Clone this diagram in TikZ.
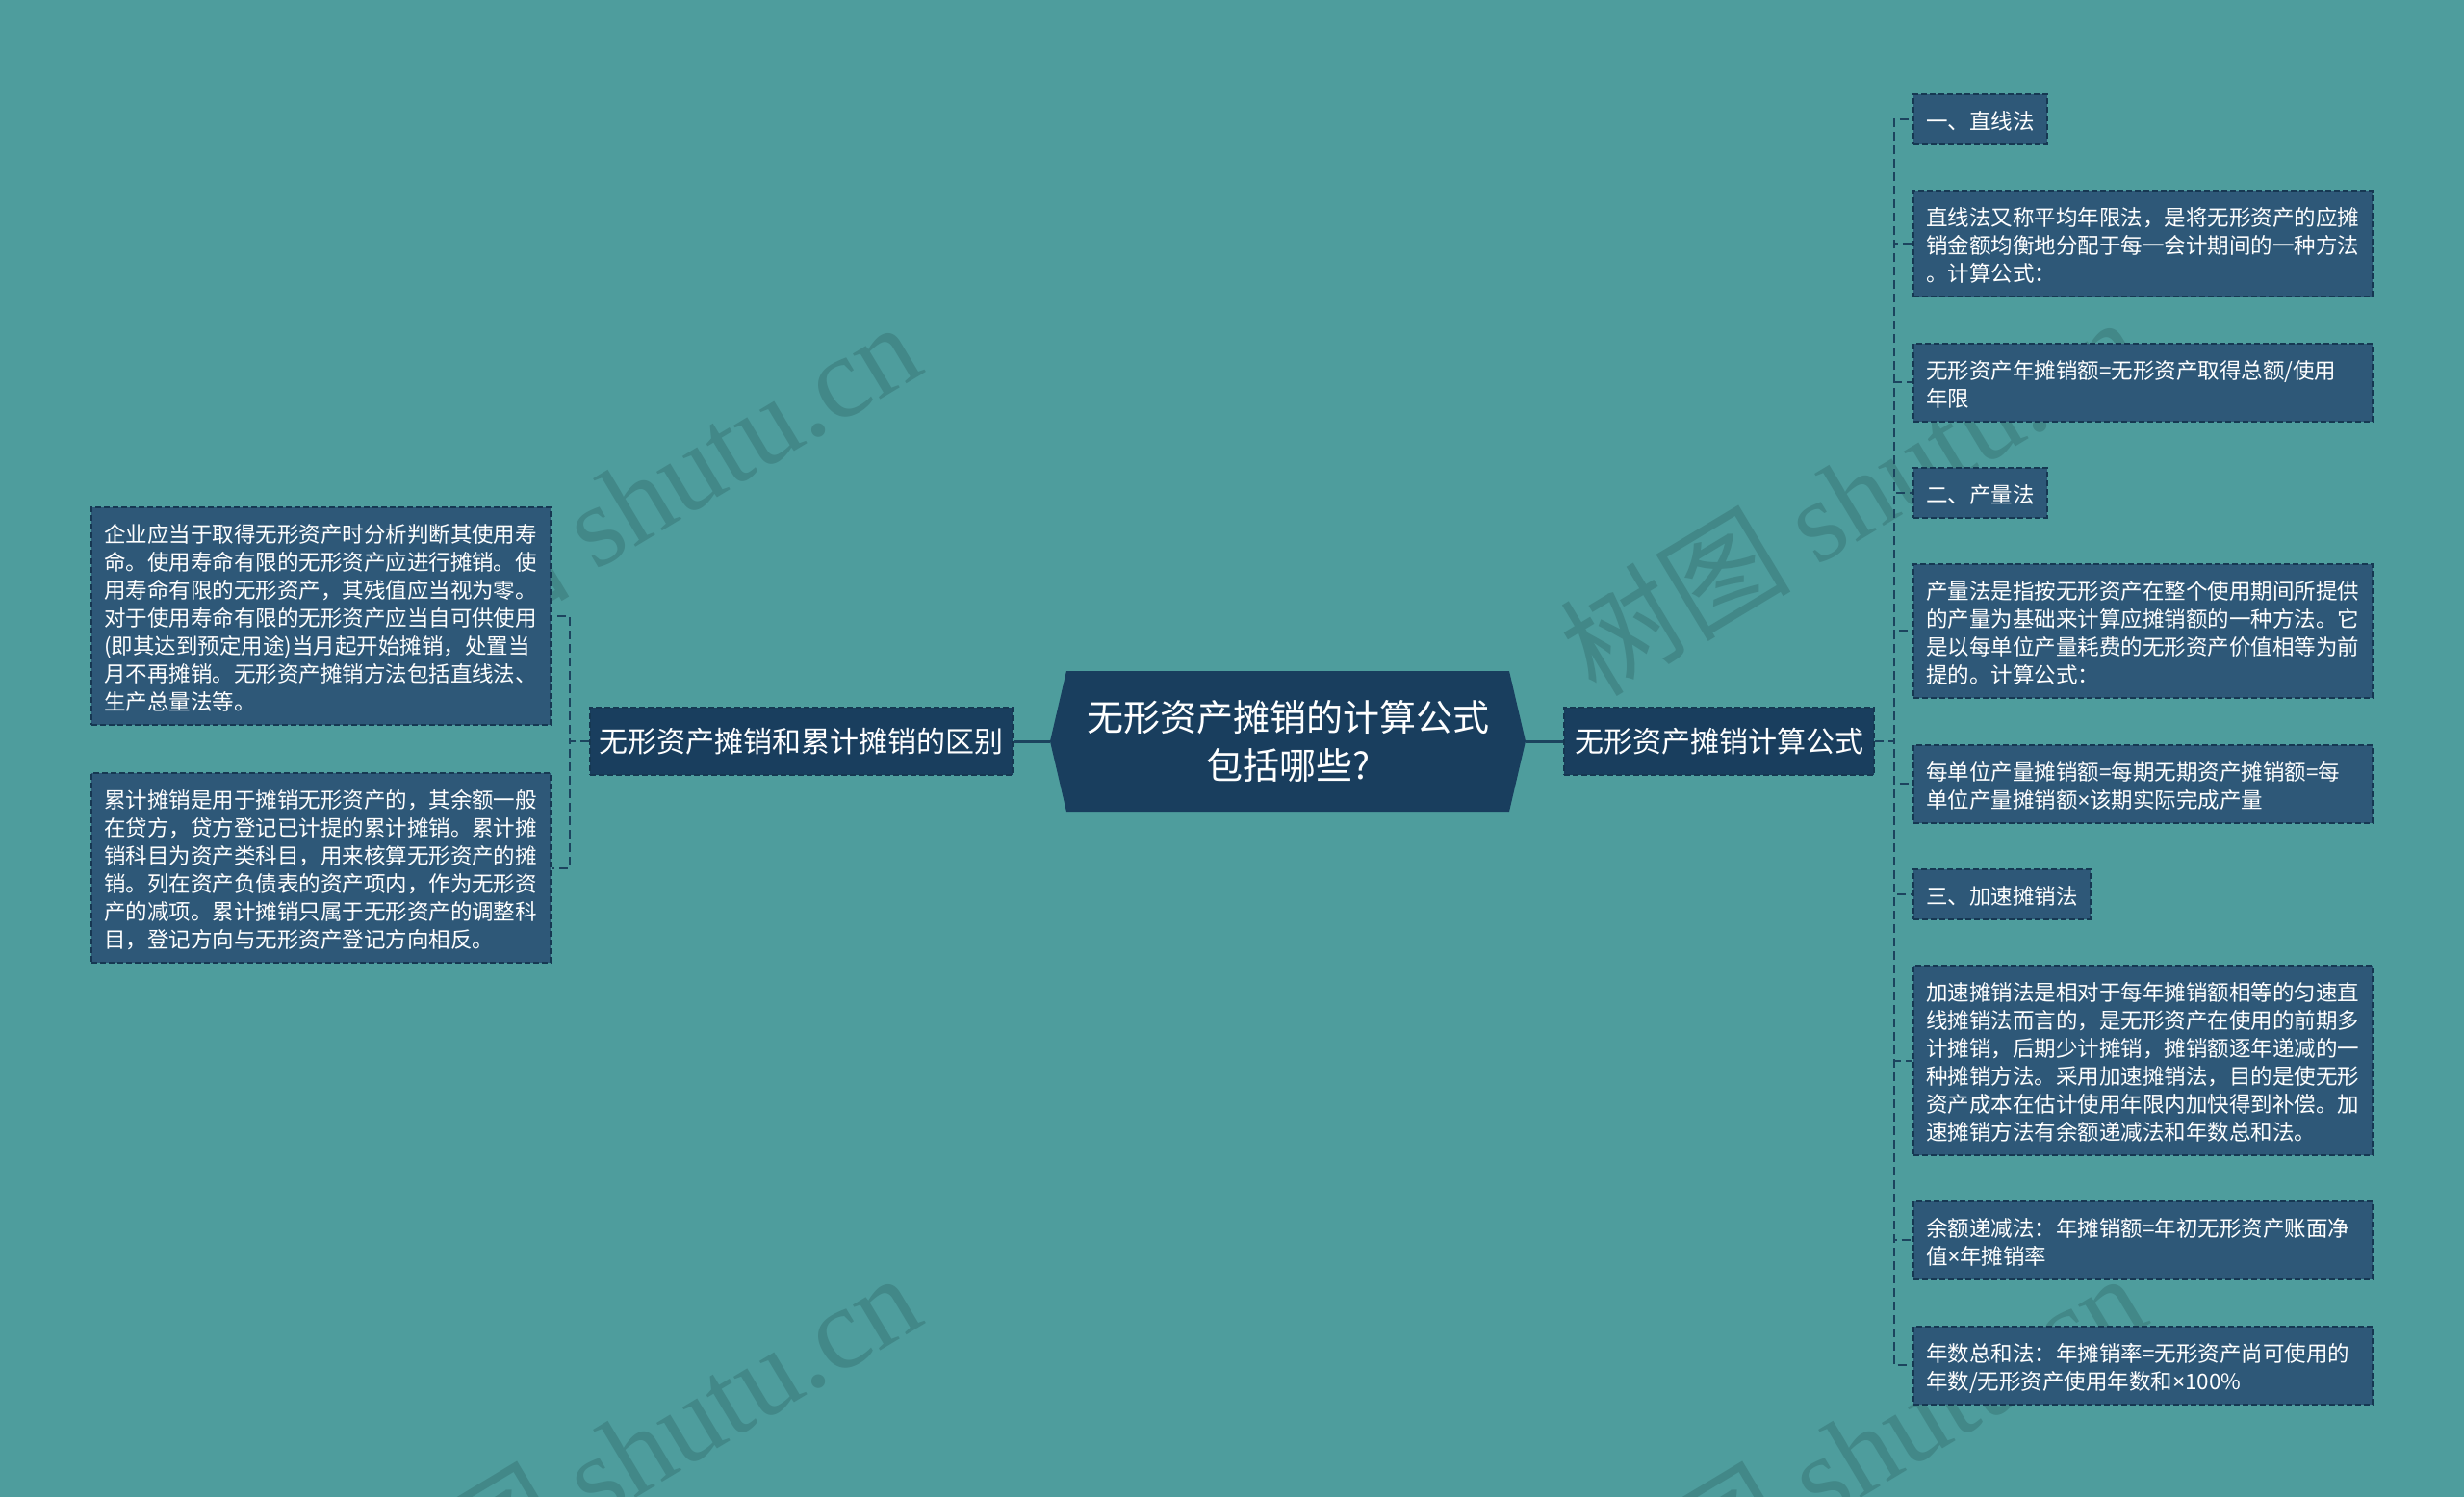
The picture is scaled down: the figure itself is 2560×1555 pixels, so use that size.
\documentclass[tikz,border=0pt]{standalone}
\usepackage{fontspec}
\setmainfont{Noto Sans CJK SC}
\newfontfamily\wmfont{Liberation Serif}
\newfontfamily\latinfont{Noto Sans}
\newcommand{\mul}{{\latinfont ×}}

\definecolor{bgteal}{RGB}{78,157,157}
\definecolor{wmteal}{RGB}{66,136,136}
\definecolor{leaffill}{RGB}{46,88,120}
\definecolor{branchfill}{RGB}{25,62,94}
\definecolor{boxborder}{RGB}{22,56,82}
\definecolor{linkcolor}{RGB}{28,68,94}

\tikzset{
  title/.style={draw=boxborder, fill=leaffill, line width=2pt, dash pattern=on 6pt off 3pt,
    text=white, font=\fontsize{22.5}{29.1}\selectfont, anchor=north west,
    inner xsep=13pt, inner ysep=10pt,
    execute at begin node=\rule{0pt}{26pt}, execute at end node=\rule[-5.6pt]{0pt}{5.6pt}},
  leaf/.style={title, text width=451pt, align=left},
  branch/.style={draw=boxborder, fill=branchfill, line width=2pt, dash pattern=on 6pt off 3pt,
    text=white, font=\fontsize{30}{36}\selectfont, minimum height=70pt, inner sep=0pt},
  link/.style={draw=linkcolor, line width=2pt, dash pattern=on 9pt off 5pt},
  rootlink/.style={draw=linkcolor, line width=3pt},
  wm/.style={text=wmteal, font=\fontsize{120}{120}\selectfont, rotate=31}
}

\begin{document}
\begin{tikzpicture}[x=1pt, y=-1pt]
  \def\hw{247} % half width of the root hexagon
  \def\hh{73}  % half height
  \def\tip{17} % depth of the side points

  % Background
  \fill[bgteal] (0,0) rectangle (2560,1555);
  \useasboundingbox (0,0) rectangle (2560,1555);

  % Watermarks
  \node[wm] (wma) at (653,519) {树图 {\wmfont shutu.cn}};
  \node[wm] (wmb) at (1922,514) {树图 {\wmfont shutu.cn}};
  \node[wm] (wmc) at (653,1507) {树图 {\wmfont shutu.cn}};
  \node[wm] (wmd) at (1926,1507) {树图 {\wmfont shutu.cn}};

  % Root hexagon
  \coordinate (rootc) at (1338,770);
  \fill[branchfill] (rootc) ++(-\hw,0) -- ++(\tip,-\hh) -- ++({2*(\hw-\tip)},0)
    -- ++(\tip,\hh) -- ++(-\tip,\hh) -- ++({-2*(\hw-\tip)},0) -- cycle;
  \node[text=white, font=\fontsize{38}{49.5}\selectfont, align=center,
    minimum width={2*\hw}, minimum height={2*\hh}, inner sep=0pt] (root) at (rootc)
    {无形资产摊销的计算公式\\包括哪些?};

  % Branches
  \node[branch, minimum width=439pt] (lbranch) at (832.5,770) {无形资产摊销和累计摊销的区别};
  \node[branch, minimum width=322pt] (rbranch) at (1786,770) {无形资产摊销计算公式};

  \draw[rootlink] (root.west) -- (lbranch.east);
  \draw[rootlink] (root.east) -- (rbranch.west);

  % Left leaves
  \node[leaf, anchor=north east] (lefta) at (573,526) {企业应当于取得无形资产时分析判断其使用寿\\命。使用寿命有限的无形资产应进行摊销。使\\用寿命有限的无形资产，其残值应当视为零。\\对于使用寿命有限的无形资产应当自可供使用\\(即其达到预定用途)当月起开始摊销，处置当\\月不再摊销。无形资产摊销方法包括直线法、\\生产总量法等。};
  \node[leaf, anchor=north east] (leftb) at (573,802) {累计摊销是用于摊销无形资产的，其余额一般\\在贷方，贷方登记已计提的累计摊销。累计摊\\销科目为资产类科目，用来核算无形资产的摊\\销。列在资产负债表的资产项内，作为无形资\\产的减项。累计摊销只属于无形资产的调整科\\目，登记方向与无形资产登记方向相反。};

  \draw[link] (lbranch.west) -- ++(-20,0) |- (lefta.east);
  \draw[link] (lbranch.west) -- ++(-20,0) |- (leftb.east);

  % Right leaves
  \node[title] (straight) at (1987,97) {一、直线法};
  \node[leaf] (straightdef) at (1987,197) {直线法又称平均年限法，是将无形资产的应摊\\销金额均衡地分配于每一会计期间的一种方法\\。计算公式：};
  \node[leaf] (straightfml) at (1987,356) {无形资产年摊销额=无形资产取得总额/使用\\年限};
  \node[title] (output) at (1987,485) {二、产量法};
  \node[leaf] (outputdef) at (1987,585) {产量法是指按无形资产在整个使用期间所提供\\的产量为基础来计算应摊销额的一种方法。它\\是以每单位产量耗费的无形资产价值相等为前\\提的。计算公式：};
  \node[leaf] (outputfml) at (1987,773) {每单位产量摊销额=每期无期资产摊销额=每\\单位产量摊销额\mul 该期实际完成产量};
  \node[title] (accel) at (1987,902) {三、加速摊销法};
  \node[leaf] (acceldef) at (1987,1002) {加速摊销法是相对于每年摊销额相等的匀速直\\线摊销法而言的，是无形资产在使用的前期多\\计摊销，后期少计摊销，摊销额逐年递减的一\\种摊销方法。采用加速摊销法，目的是使无形\\资产成本在估计使用年限内加快得到补偿。加\\速摊销方法有余额递减法和年数总和法。};
  \node[leaf] (declining) at (1987,1247) {余额递减法：年摊销额=年初无形资产账面净\\值\mul 年摊销率};
  \node[leaf] (sumyears) at (1987,1377) {年数总和法：年摊销率=无形资产尚可使用的\\年数/无形资产使用年数和\mul 100\%};

  \foreach \n in {straight,straightdef,straightfml,output,outputdef,outputfml,accel,acceldef,declining,sumyears}
    \draw[link] (rbranch.east) -- ++(20,0) |- (\n.west);
\end{tikzpicture}
\end{document}
